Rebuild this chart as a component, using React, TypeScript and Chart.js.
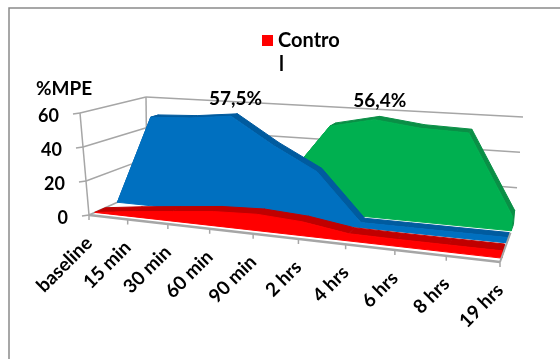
import React, { useEffect, useRef } from "react";
import { Chart, registerables } from "chart.js";

Chart.register(...registerables);

const categories = ["baseline", "15 min", "30 min", "60 min", "90 min", "2 hrs", "4 hrs", "6 hrs", "8 hrs", "19 hrs"];
const controlValues = [0, 3, 5.5, 8, 9, 7.5, 3.8, 3.6, 3.6, 3.6];
const middleValues = [0, 54, 55, 57.5, 42, 29, 2.8, 2.8, 2.8, 2.8];
const rearValues = [0, 0, 0, 0, 18, 51, 56.4, 53, 52, 8];
const yTicks = [0, 20, 40, 60];
const yMax = 60;

const WIDTH = 560;
const HEIGHT = 359;
const FONT = '"Lato", "Open Sans", sans-serif';

// Box corners of the 3D plot, used by the projection below.
const floorFL = [89, 215], floorFR = [500, 262], floorBL = [147, 189], floorBR = [514, 223];
const topFL = [80, 113], topFR = [510, 139], topBL = [146, 97], topBR = [523, 117];
const PERSPECTIVE = 1.203;

type Pt = { x: number; y: number };

const mix = (a: number[], b: number[], t: number) => [a[0] + (b[0] - a[0]) * t, a[1] + (b[1] - a[1]) * t];

// Maps (category position, depth, value) onto the drawing plane.
function project(index: number, depth: number, value: number): Pt {
  const t = index / (categories.length - 1);
  const u = t / (t + PERSPECTIVE * (1 - t));
  const floor = mix(mix(floorFL, floorFR, u), mix(floorBL, floorBR, u), depth);
  const top = mix(mix(topFL, topFR, u), mix(topBL, topBR, u), depth);
  const p = mix(floor, top, value / yMax);
  return { x: p[0], y: p[1] };
}

type Layer = { points: Pt[]; fill?: string; stroke: string; width: number };

// A slab of the 3D area: top surface, end cap and front face.
function slab(values: number[], d0: number, d1: number, front: string, dark: string): Layer[] {
  const out: Layer[] = [];
  const n = values.length;
  const last = n - 1;
  out.push({
    points: [project(last, d0, values[last]), project(last, d1, values[last]), project(last, d1, 0), project(last, d0, 0), project(last, d0, values[last])],
    fill: dark, stroke: dark, width: 1,
  });
  for (let i = 0; i < last; i++) {
    out.push({
      points: [project(i, d0, values[i]), project(i + 1, d0, values[i + 1]), project(i + 1, d1, values[i + 1]), project(i, d1, values[i]), project(i, d0, values[i])],
      fill: dark, stroke: dark, width: 1,
    });
  }
  const face = values.map((v, i) => project(i, d0, v));
  face.push(project(last, d0, 0), project(0, d0, 0), project(0, d0, values[0]));
  out.push({ points: face, fill: front, stroke: front, width: 1 });
  return out;
}

function buildLayers(): Layer[] {
  const grey = "#a6a6a6";
  const last = categories.length - 1;
  const layers: Layer[] = [];
  const line = (a: Pt, b: Pt, width = 1.5) => layers.push({ points: [a, b], stroke: grey, width });
  yTicks.forEach((v) => {
    line(project(0, 0, v), project(0, 1, v));
    line(project(0, 1, v), project(last, 1, v));
    const p = project(0, 0, v);
    line({ x: p.x - 7, y: p.y + 1 }, p);
  });
  line(project(0, 1, 0), project(0, 1, yMax));
  line(project(0, 0, 0), project(0, 0, yMax));
  layers.push(...slab(rearValues, 0.8, 0.96, "#00b050", "#0a8f46"));
  layers.push(...slab(middleValues, 0.49, 0.62, "#0070c0", "#005b9f"));
  layers.push(...slab(controlValues, 0.1, 0.28, "#ff0000", "#c00000"));
  line(project(0, 0, 0), project(last, 0, 0), 2.5);
  line(project(last, 0, 0), project(last, 0.75, 0), 2);
  categories.forEach((_, i) => {
    const p = project(i, 0, 0);
    line(p, { x: p.x, y: p.y + 5 });
  });
  return layers;
}

// Writes the axis labels, value labels and legend.
const textPlugin = {
  id: "chartText",
  afterDatasetsDraw(chart: Chart) {
    const { ctx } = chart;
    ctx.save();
    ctx.fillStyle = "#000";
    ctx.textBaseline = "middle";

    ctx.font = `bold 18px ${FONT}`;
    ctx.textAlign = "right";
    yTicks.forEach((v) => {
      const p = project(0, 0, v);
      ctx.fillText(String(v), p.x - 21, p.y + 3);
    });

    ctx.font = `bold 19px ${FONT}`;
    ctx.textAlign = "left";
    ctx.fillText("%MPE", 36, 89);

    ctx.textAlign = "center";
    const a = project(3, 0.62, middleValues[3]);
    ctx.fillText("57,5%", a.x - 2, a.y - 15);
    const b = project(6, 0.96, rearValues[6]);
    ctx.fillText("56,4%", b.x, b.y - 15);

    ctx.textAlign = "left";
    ctx.fillStyle = "#ff0000";
    ctx.fillRect(262, 35, 11, 11);
    ctx.fillStyle = "#000";
    ctx.font = `bold 20px ${FONT}`;
    ctx.fillText("Contro", 278, 41);
    ctx.fillText("l", 279, 65);

    ctx.font = `bold 19px ${FONT}`;
    ctx.textAlign = "right";
    categories.forEach((label, i) => {
      const p = project(i, 0, 0);
      ctx.save();
      ctx.translate(p.x, p.y + 25);
      ctx.rotate(-Math.PI / 4);
      ctx.fillText(label, 0, 0);
      ctx.restore();
    });
    ctx.restore();
  },
};

export default function App() {
  const ref = useRef<HTMLCanvasElement | null>(null);

  useEffect(() => {
    if (!ref.current) return;
    const layers = buildLayers();
    const frame: Layer[] = [
      { points: [{ x: 9, y: HEIGHT }, { x: 9, y: 8 }, { x: WIDTH, y: 8 }], stroke: "#8a8a8a", width: 1.5 },
    ];
    const all = [...frame, ...layers];
    const chart = new Chart(ref.current, {
      type: "scatter",
      data: {
        datasets: all.map((l, i) => ({
          data: l.points,
          showLine: true,
          parsing: false,
          normalized: false,
          pointRadius: 0,
          tension: 0,
          borderColor: l.stroke,
          borderWidth: l.width,
          backgroundColor: l.fill ?? "transparent",
          fill: l.fill ? "shape" : false,
          clip: false,
          order: all.length - i,
        })),
      } as any,
      options: {
        responsive: false,
        animation: false,
        events: [],
        layout: { padding: 0 },
        plugins: { legend: { display: false }, tooltip: { enabled: false }, title: { display: false } },
        scales: {
          x: { type: "linear", min: 0, max: WIDTH, display: false },
          y: { type: "linear", min: 0, max: HEIGHT, reverse: true, display: false },
        },
      },
      plugins: [textPlugin as any],
    });
    return () => chart.destroy();
  }, []);

  return (
    <canvas
      ref={ref}
      width={WIDTH}
      height={HEIGHT}
      style={{ position: "fixed", left: 0, top: 0, width: WIDTH, height: HEIGHT, display: "block" }}
    />
  );
}
